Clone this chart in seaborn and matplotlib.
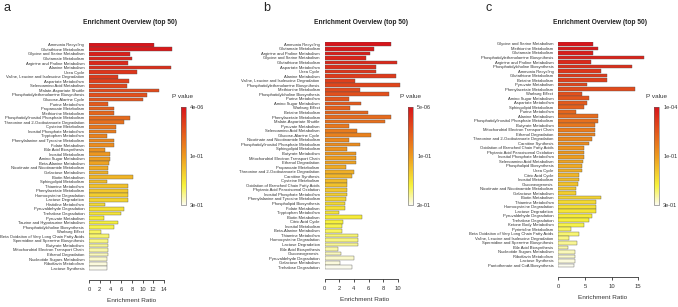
import numpy as np
import pandas as pd
import matplotlib
matplotlib.use("Agg")
import matplotlib.pyplot as plt
import seaborn as sns
from matplotlib.colors import LinearSegmentedColormap
from matplotlib.cm import ScalarMappable

a_pathways = [
    "Ammonia Recycling", "Glutathione Metabolism", "Glycine and Serine Metabolism",
    "Glutamate Metabolism", "Arginine and Proline Metabolism", "Alanine Metabolism",
    "Urea Cycle", "Valine, Leucine and Isoleucine Degradation", "Aspartate Metabolism",
    "Selenoamino Acid Metabolism", "Malate-Aspartate Shuttle",
    "Phosphatidylethanolamine Biosynthesis", "Glucose-Alanine Cycle", "Purine Metabolism",
    "Propanoate Metabolism", "Methionine Metabolism",
    "Phosphatidylinositol Phosphate Metabolism", "Threonine and 2-Oxobutanoate Degradation",
    "Cysteine Metabolism", "Inositol Phosphate Metabolism", "Tryptophan Metabolism",
    "Phenylalanine and Tyrosine Metabolism", "Folate Metabolism", "Bile Acid Biosynthesis",
    "Inositol Metabolism", "Amino Sugar Metabolism", "Beta-Alanine Metabolism",
    "Nicotinate and Nicotinamide Metabolism", "Galactose Metabolism", "Biotin Metabolism",
    "Sphingolipid Metabolism", "Thiamine Metabolism", "Phenylacetate Metabolism",
    "Homocysteine Degradation", "Lactose Degradation", "Histidine Metabolism",
    "Pyruvaldehyde Degradation", "Trehalose Degradation", "Pyruvate Metabolism",
    "Taurine and Hypotaurine Metabolism", "Phosphatidylcholine Biosynthesis",
    "Warburg Effect", "Beta Oxidation of Very Long Chain Fatty Acids",
    "Spermidine and Spermine Biosynthesis", "Butyrate Metabolism",
    "Mitochondrial Electron Transport Chain", "Ethanol Degradation",
    "Nucleotide Sugars Metabolism", "Riboflavin Metabolism", "Lactose Synthesis",
]
a_ratio = [12.2, 15.5, 7.7, 8.0, 7.3, 15.3, 9.0, 5.4, 7.4, 7.0,
           13.1, 10.8, 10.0, 3.5, 4.7, 4.6, 7.6, 6.5, 5.1, 5.1,
           3.3, 4.7, 4.6, 3.0, 4.0, 4.0, 3.8, 3.5, 3.5, 8.2,
           3.3, 7.2, 7.2, 7.2, 7.2, 3.0, 6.6, 5.9, 2.8, 5.4,
           4.7, 2.3, 3.8, 3.6, 3.5, 3.5, 3.5, 3.3, 3.3, 3.3]
a_pvalue_labels = ["4e-06", "1e-01", "3e-01"]

b_pathways = [
    "Ammonia Recycling", "Glutamate Metabolism", "Arginine and Proline Metabolism",
    "Glycine and Serine Metabolism", "Glutathione Metabolism", "Aspartate Metabolism",
    "Urea Cycle", "Alanine Metabolism", "Valine, Leucine and Isoleucine Degradation",
    "Phosphatidylethanolamine Biosynthesis", "Methionine Metabolism",
    "Phosphatidylcholine Biosynthesis", "Purine Metabolism", "Amino Sugar Metabolism",
    "Warburg Effect", "Betaine Metabolism", "Phenylacetate Metabolism",
    "Malate-Aspartate Shuttle", "Pyruvate Metabolism", "Selenoamino Acid Metabolism",
    "Glucose-Alanine Cycle", "Nicotinate and Nicotinamide Metabolism",
    "Phosphatidylinositol Phosphate Metabolism", "Sphingolipid Metabolism",
    "Butyrate Metabolism", "Mitochondrial Electron Transport Chain", "Ethanol Degradation",
    "Propanoate Metabolism", "Threonine and 2-Oxobutanoate Degradation",
    "Carnitine Synthesis", "Cysteine Metabolism", "Oxidation of Branched Chain Fatty Acids",
    "Phytanic Acid Peroxisomal Oxidation", "Inositol Phosphate Metabolism",
    "Phenylalanine and Tyrosine Metabolism", "Phospholipid Biosynthesis",
    "Folate Metabolism", "Tryptophan Metabolism", "Biotin Metabolism", "Citric Acid Cycle",
    "Inositol Metabolism", "Beta-Alanine Metabolism", "Thiamine Metabolism",
    "Homocysteine Degradation", "Lactose Degradation", "Bile Acid Biosynthesis",
    "Gluconeogenesis", "Pyruvaldehyde Degradation", "Galactose Metabolism",
    "Trehalose Degradation",
]
b_ratio = [9.0, 6.7, 6.2, 5.6, 9.8, 7.0, 7.0, 9.7, 4.1, 10.3,
           4.8, 8.8, 3.3, 4.9, 3.5, 5.9, 9.1, 8.2, 3.4, 4.4,
           6.3, 3.3, 4.8, 3.1, 4.3, 4.3, 4.3, 2.9, 4.0, 3.7,
           3.1, 3.1, 3.1, 3.1, 2.9, 2.8, 2.8, 2.0, 5.1, 2.5,
           2.4, 2.4, 4.5, 4.5, 4.5, 1.8, 2.3, 4.0, 2.1, 3.7]
b_pvalue_labels = ["5e-06", "1e-01", "2e-01"]

c_pathways = [
    "Glycine and Serine Metabolism", "Methionine Metabolism", "Glutamate Metabolism",
    "Phosphatidylethanolamine Biosynthesis", "Arginine and Proline Metabolism",
    "Phosphatidylcholine Biosynthesis", "Ammonia Recycling", "Glutathione Metabolism",
    "Betaine Metabolism", "Pyruvate Metabolism", "Phenylacetate Metabolism",
    "Warburg Effect", "Amino Sugar Metabolism", "Aspartate Metabolism",
    "Sphingolipid Metabolism", "Purine Metabolism", "Alanine Metabolism",
    "Phosphatidylinositol Phosphate Metabolism", "Butyrate Metabolism",
    "Mitochondrial Electron Transport Chain", "Ethanol Degradation",
    "Threonine and 2-Oxobutanoate Degradation", "Carnitine Synthesis",
    "Oxidation of Branched Chain Fatty Acids", "Phytanic Acid Peroxisomal Oxidation",
    "Inositol Phosphate Metabolism", "Selenoamino Acid Metabolism",
    "Phospholipid Biosynthesis", "Urea Cycle", "Citric Acid Cycle", "Inositol Metabolism",
    "Gluconeogenesis", "Nicotinate and Nicotinamide Metabolism", "Galactose Metabolism",
    "Biotin Metabolism", "Thiamine Metabolism", "Homocysteine Degradation",
    "Lactose Degradation", "Pyruvaldehyde Degradation", "Trehalose Degradation",
    "Ketone Body Metabolism", "Pyrimidine Metabolism",
    "Beta Oxidation of Very Long Chain Fatty Acids",
    "Valine, Leucine and Isoleucine Degradation", "Spermidine and Spermine Biosynthesis",
    "Bile Acid Biosynthesis", "Nucleotide Sugars Metabolism", "Riboflavin Metabolism",
    "Lactose Synthesis", "Pantothenate and CoA Biosynthesis",
]
c_ratio = [6.6, 7.4, 6.6, 16.1, 6.1, 13.8, 8.1, 9.2, 9.2, 5.3,
           14.3, 4.4, 5.8, 5.4, 4.8, 3.4, 7.5, 7.5, 6.8, 6.8,
           6.8, 6.4, 5.8, 4.9, 4.9, 4.9, 4.6, 4.4, 4.4, 3.9,
           3.9, 3.7, 3.4, 3.4, 8.1, 7.1, 7.1, 7.1, 6.4, 5.8,
           4.9, 2.3, 3.8, 2.1, 3.6, 1.9, 3.2, 3.2, 3.2, 3.0]
c_pvalue_labels = ["1e-04", "1e-01", "3e-01"]

FONT = ["Liberation Sans Narrow", "Liberation Sans", "DejaVu Sans"]
sns.set_style("white")
plt.rcParams["font.family"] = FONT

W, H = 678, 307
# red -> orange -> yellow -> near white, like R heat colours
heat = LinearSegmentedColormap.from_list(
    "heat", [(0.0, "#fbfbee"), (0.2, "#f7f23a"), (0.5, "#ee9a1e"), (1.0, "#d8141a")])


def px_axes(fig, left, top, right, bottom):
    return fig.add_axes([left / W, 1 - bottom / H, (right - left) / W, (bottom - top) / H])


def panel(fig, letter, names, ratio, plabels, box, px_per_unit, ticks, cbar_x, title_x, letter_x):
    left, top, right, bottom = box
    ax = px_axes(fig, left, top, right, bottom)
    df = pd.DataFrame({"pathway": names, "ratio": ratio})
    n = len(names)
    colors = {p: heat(1 - i / (n - 1)) for i, p in enumerate(names)}
    sns.barplot(data=df, x="ratio", y="pathway", hue="pathway", palette=colors,
                legend=False, width=0.82, saturation=1, edgecolor="#555555",
                linewidth=0.28, ax=ax)
    ax.set_xlim(0, (right - left) / px_per_unit)
    ax.set_ylim(n - 0.5, -0.5)
    for s in ["top", "right", "left"]:
        ax.spines[s].set_visible(False)
    ax.spines["bottom"].set_position(("outward", 6.5))
    ax.spines["bottom"].set_bounds(ticks[0], ticks[-1])
    ax.spines["bottom"].set_linewidth(0.6)
    ax.spines["bottom"].set_color("#333333")
    ax.set_xticks(ticks)
    ax.set_xticklabels([str(t) for t in ticks])
    ax.tick_params(axis="x", length=2.5, width=0.6, pad=3, labelsize=4.2,
                   colors="#333333", bottom=True)
    ax.tick_params(axis="y", length=0, pad=3.5, labelsize=3.0, colors="#333333")
    ax.set_ylabel("")
    ax.set_xlabel("Enrichment Ratio", fontsize=4.6, color="#333333", labelpad=4)
    fig.text(title_x / W, 1 - 22 / H, "Enrichment Overview (top 50)", ha="center",
             va="center", fontsize=4.8, fontweight="bold", color="#222222")
    fig.text(letter_x / W, 1 - 8 / H, letter, ha="left", va="center", fontsize=9,
             family=["Liberation Sans", "DejaVu Sans"])

    cax = px_axes(fig, cbar_x, 107, cbar_x + 5, 205)
    sm = ScalarMappable(cmap=heat, norm=plt.Normalize(0, 1))
    cb = fig.colorbar(sm, cax=cax)
    cb.outline.set_linewidth(0.4)
    cb.outline.set_edgecolor("#666666")
    cb.set_ticks([1, 0.5, 0])
    cb.set_ticklabels(plabels)
    cax.tick_params(length=0, pad=3, labelsize=4.0, colors="#333333")
    fig.text((cbar_x + 2) / W, 1 - 97 / H, "P value", ha="center", va="center",
             fontsize=4.6, color="#333333")


fig = plt.figure(figsize=(W / 100, H / 100), dpi=100)
panel(fig, "a", a_pathways, a_ratio, a_pvalue_labels, (89, 42.5, 175, 270.5), 5.36,
      list(range(0, 15, 2)), 180.5, 130, 3)
panel(fig, "b", b_pathways, b_ratio, b_pvalue_labels, (324.5, 42, 404, 269.5), 7.35,
      list(range(0, 11, 2)), 408, 361.5, 263)
panel(fig, "c", c_pathways, c_ratio, c_pvalue_labels, (558.3, 41.7, 646, 267.7), 5.33,
      [0, 5, 10, 15], 654, 600, 486)

fig.savefig("out.png", dpi=100)
